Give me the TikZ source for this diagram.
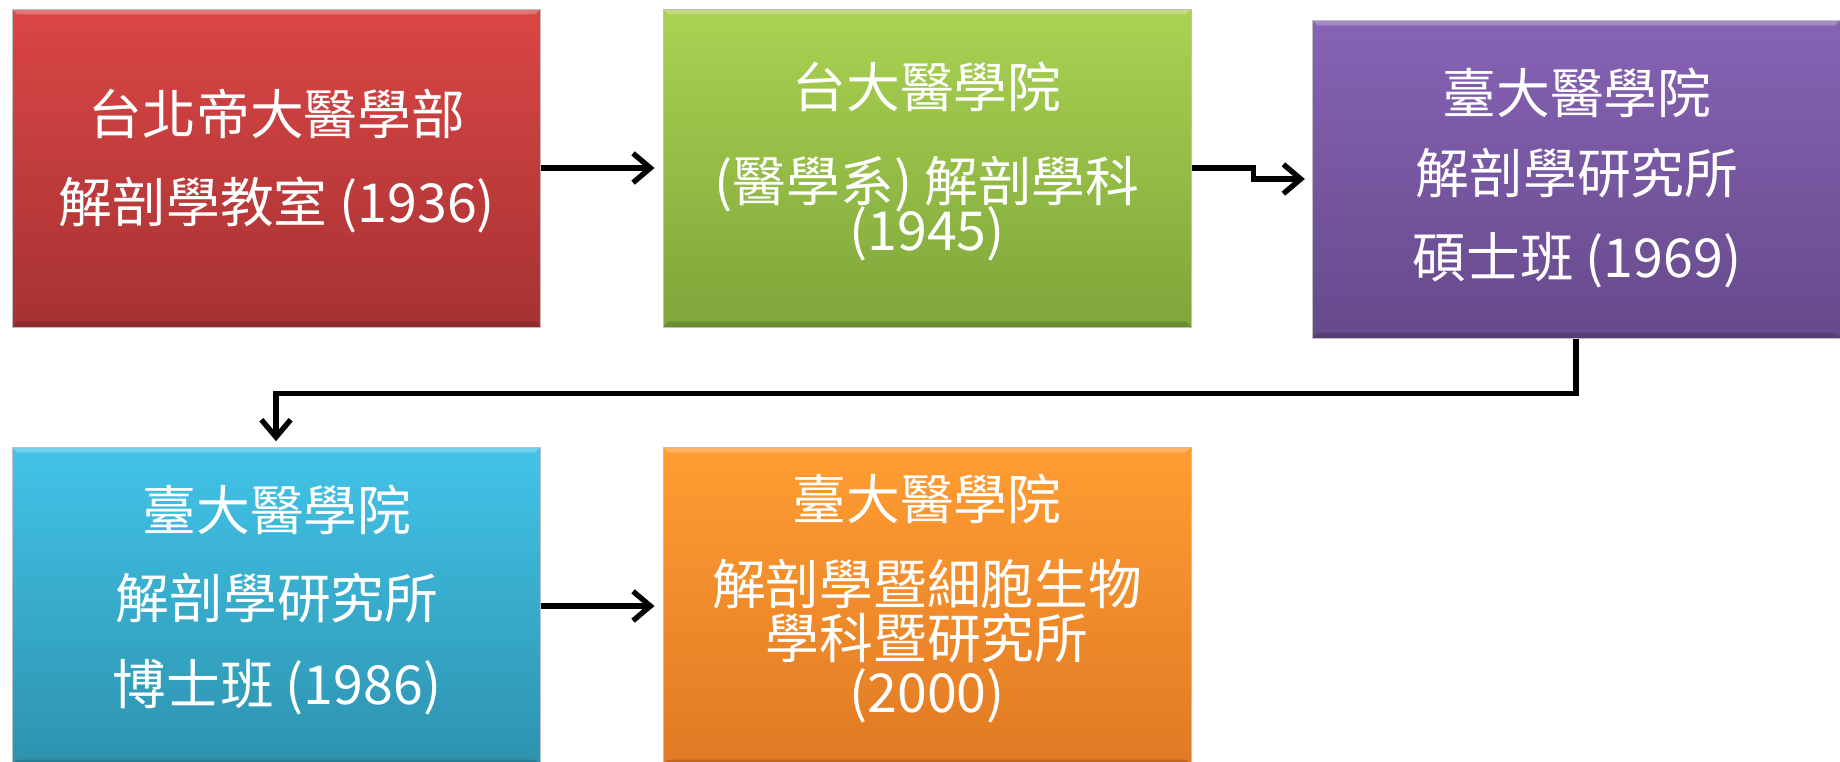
\documentclass[tikz,border=0pt]{standalone}
\usepackage{fontspec}
\setmainfont{Noto Sans CJK TC}
\usetikzlibrary{arrows.meta}

\definecolor{redtop}{RGB}{219,70,70}
\definecolor{redbot}{RGB}{166,50,50}
\definecolor{greentop}{RGB}{170,210,82}
\definecolor{greenbot}{RGB}{126,166,58}
\definecolor{purpletop}{RGB}{135,99,181}
\definecolor{purplebot}{RGB}{102,74,139}
\definecolor{cyantop}{RGB}{66,196,232}
\definecolor{cyanbot}{RGB}{45,146,174}
\definecolor{orangetop}{RGB}{255,157,50}
\definecolor{orangebot}{RGB}{224,122,36}

\tikzset{
  box/.style={rectangle, draw=black!25, line width=0.75pt, inner sep=0pt,
    minimum width=396pt, minimum height=238.5pt,
    path picture={
      \fill[white, opacity=0.25] (path picture bounding box.north west) -- (path picture bounding box.north east)
        -- ([xshift=-4pt,yshift=-4pt]path picture bounding box.north east) -- ([xshift=4pt,yshift=-4pt]path picture bounding box.north west) -- cycle;
      \fill[black, opacity=0.15] (path picture bounding box.south west) -- (path picture bounding box.south east)
        -- ([xshift=-4pt,yshift=4pt]path picture bounding box.south east) -- ([xshift=4pt,yshift=4pt]path picture bounding box.south west) -- cycle;
    }},
  txt/.style={text=white, align=center, inner sep=0pt, font=\fontsize{40.3}{48}\selectfont},
  link/.style={line width=4pt, -{Straight Barb[length=13pt,width=22pt]}}
}

\begin{document}
\begin{tikzpicture}[x=0.75pt,y=0.75pt,yscale=-1,xscale=1]
\useasboundingbox (0,0) rectangle (1840,761);
\clip (0,0) rectangle (1840,761);

%Shape: Rectangle
\node [box, top color=redtop, bottom color=redbot] (red) at (276,168) {};
%Shape: Rectangle
\node [box, top color=greentop, bottom color=greenbot] (green) at (927,168) {};
%Shape: Rectangle
\node [box, top color=purpletop, bottom color=purplebot] (purple) at (1576,179) {};
%Shape: Rectangle
\node [box, top color=cyantop, bottom color=cyanbot] (cyan) at (276,606) {};
%Shape: Rectangle
\node [box, top color=orangetop, bottom color=orangebot] (orange) at (927,606) {};

% Text Node
\node [txt] (redtext) at (277,161) {台北帝大醫學部\\[18pt]解剖學教室 (1936)};
% Text Node
\node [txt] (greentext) at (927,161.5) {台大醫學院\\[22pt](醫學系) 解剖學科\\[-11pt](1945)};
% Text Node
\node [txt] (purpletext) at (1577,178) {臺大醫學院\\[12pt]解剖學研究所\\[15pt]碩士班 (1969)};
% Text Node
\node [txt] (cyantext) at (277,600) {臺大醫學院\\[18pt]解剖學研究所\\[16.5pt]博士班 (1986)};
% Text Node
\node [txt] (orangetext) at (927,598.5) {臺大醫學院\\[16pt]解剖學暨細胞生物\\[-8pt]學科暨研究所\\[-7pt](2000)};

%Straight Lines
\draw [link, shorten >=6pt] (red.east) -- (green.west);
%Connector
\draw [link, shorten >=5pt] (green.east) -- ++(62,0) |- (purple.west);
%Connector
\draw [link, shorten >=4pt] (purple.south) -- ++(0,55) -| (cyan.north);
%Straight Lines
\draw [link, shorten >=6pt] (cyan.east) -- (orange.west);

\end{tikzpicture}
\end{document}
